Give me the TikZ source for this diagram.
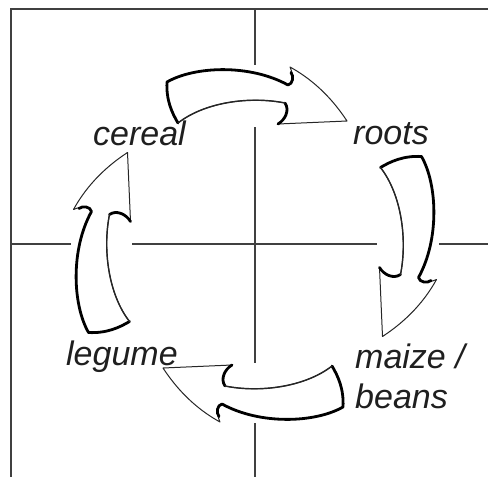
\documentclass[tikz,border=0pt]{standalone}
\usepackage{fontspec}
\setmainfont{Liberation Sans}
\usepackage{tikz}
\tikzstyle{crop} = [anchor=base west, inner sep=0pt, font=\fontsize{34}{40}\selectfont\itshape, text=black!88]
\tikzstyle{frameline} = [draw=black!75, line width=1.5pt]
\tikzset{
  % arrow styles
  arrowbody/.style={fill=white, draw=black!85, line width=1pt, line join=round},
  arrowrim/.style={draw=black, line width=2.8pt, line cap=round, line join=round},
  arrowinner/.style={draw=black!85, line width=1.4pt, line cap=round},
  % one bent arrow of the rotation, drawn round the hub
  croparrow/.pic={
    \draw[arrowbody] (-88,-162.5) .. controls (-60,-178.5) and (-5,-180.5) .. (33,-159.5)
      .. controls (38,-160.5) and (39,-168.5) .. (35,-177.5)
      .. controls (55,-166.5) and (75,-149.5) .. (92,-123.5)
      -- (23,-120.5)
      .. controls (30,-124.5) and (35,-134.5) .. (30,-141.5)
      .. controls (-5,-148.5) and (-50,-142.5) .. (-77,-121.5)
      .. controls (-83,-131.5) and (-89,-144.5) .. (-88,-162.5) -- cycle;
    \draw[arrowrim] (-77,-121.5) .. controls (-83,-131.5) and (-89,-144.5) .. (-88,-162.5)
      .. controls (-60,-178.5) and (-5,-180.5) .. (33,-159.5)
      .. controls (38,-160.5) and (39,-168.5) .. (36,-172);
    \draw[arrowrim] (23,-120.5) .. controls (30,-124.5) and (35,-134.5) .. (30,-141.5);
    \draw[arrowinner] (30,-141.5) .. controls (-5,-148.5) and (-50,-142.5) .. (-77,-121.5);
  },
}

\begin{document}
\begin{tikzpicture}[x=1pt, y=-1pt]
        \useasboundingbox (0,0) rectangle (488,477);
        \coordinate (hub) at (255,244.5);
        % frame and cross
        \draw[frameline] (11,477) -- (11,9) -- (488,9);
        \draw[frameline] (255,9) -- (255,65) (255,127) -- (255,363) (255,423) -- (255,477);
        \draw[frameline] (11,244) -- (71,244) (132,244) -- (377,244) (439,244) -- (488,244);
        % arrows
        \pic at (hub) {croparrow};
        \pic[rotate=-90] at ([xshift=4pt]hub) {croparrow};
        \pic[rotate=180] at (hub) {croparrow};
        \pic[rotate=90] at ([xshift=-4pt]hub) {croparrow};
        % crops
        \node[crop] (cereal) at (93,145) {cereal};
        \node[crop] (roots) at (353,144) {roots};
        \node[crop] (legume) at (66,365) {legume};
        \node[crop, align=left] (maize) at (355,408) {maize /\\beans};
    \end{tikzpicture}
\end{document}
